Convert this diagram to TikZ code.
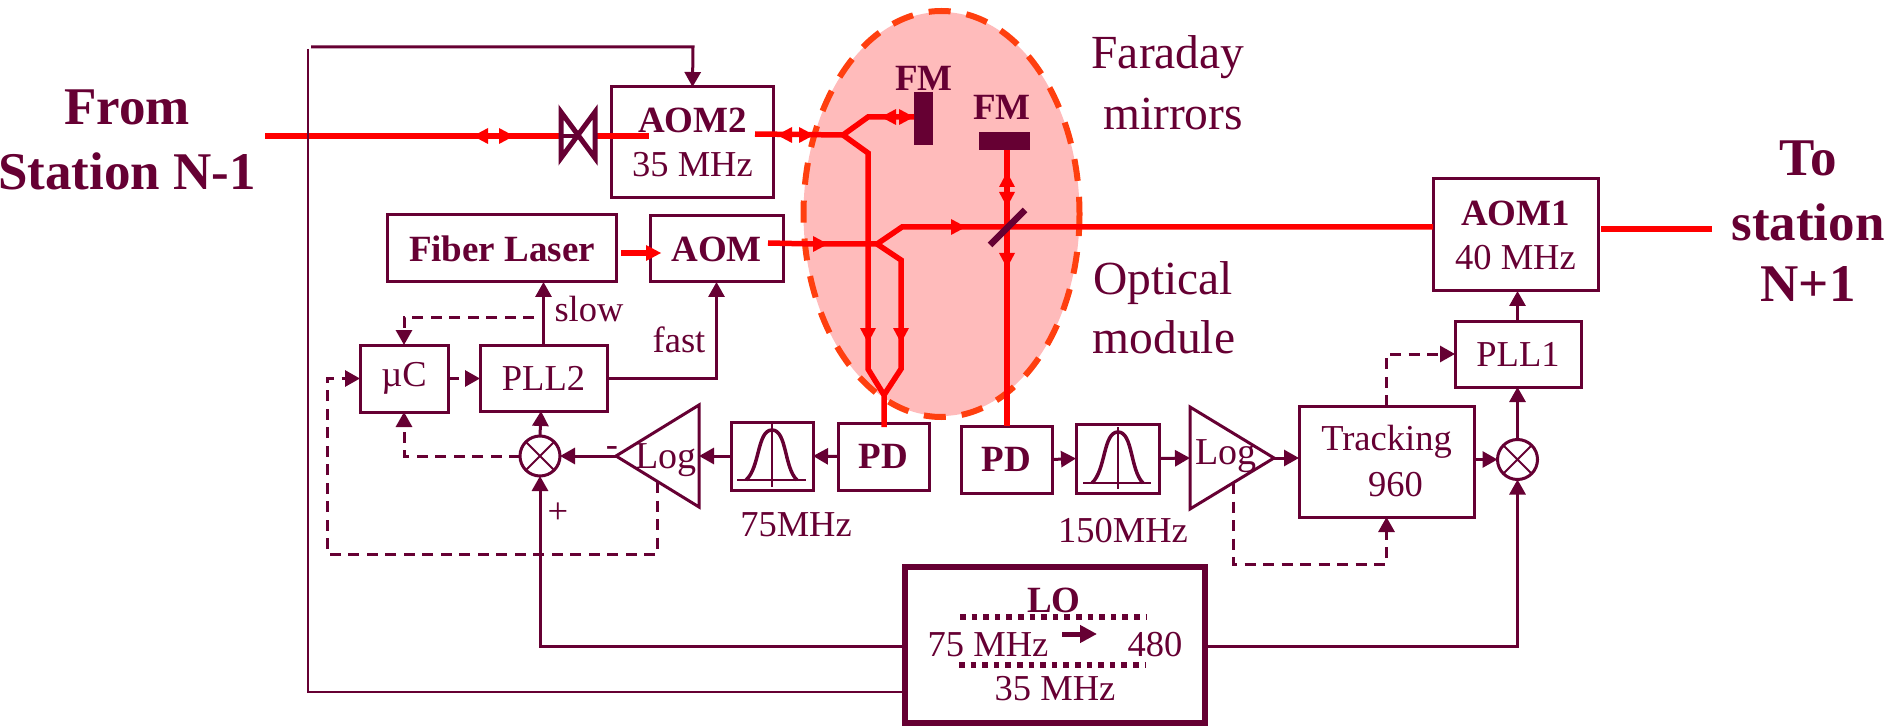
\documentclass[tikz,border=0pt]{standalone}
\usepackage{fontspec}
\setmainfont{Liberation Serif}
\usetikzlibrary{arrows.meta,calc,shapes.geometric}
\definecolor{dk}{HTML}{660033}
\definecolor{ored}{HTML}{FF3F0F}
\definecolor{pk}{HTML}{FFBBBB}
\newcommand\txtn{\fontsize{36.5}{44}\selectfont}
\newcommand\txtb{\fontsize{37}{44}\selectfont\bfseries}
\newcommand\txtm{\fontsize{47.5}{60}\selectfont}
\newcommand\txtl{\fontsize{53}{65}\selectfont\bfseries}
\newcommand\hr[2]{\fill[red] (#1,#2)--(#1-15,#2-8)--(#1-15,#2+8)--cycle;}
\newcommand\hl[2]{\fill[red] (#1,#2)--(#1+15,#2-8)--(#1+15,#2+8)--cycle;}
\newcommand\hd[2]{\fill[red] (#1,#2)--(#1-8,#2-15)--(#1+8,#2-15)--cycle;}
\newcommand\hu[2]{\fill[red] (#1,#2)--(#1-8,#2+15)--(#1+8,#2+15)--cycle;}
\tikzset{
  x=1pt,y=-1pt,
  every node/.style={text=dk,inner sep=0pt,outer sep=0pt,align=center},
  boxn/.style={draw=dk,line width=3pt,rectangle},
  mixer/.style={draw=dk,line width=3pt,circle,minimum size=40pt},
  conn/.style={draw=dk,line width=3pt,line join=miter,-{Triangle[length=15pt,width=16pt]}},
  dconn/.style={conn,dash pattern=on 11pt off 7.5pt},
  plain/.style={draw=dk,line width=3pt,line join=miter},
  thinl/.style={draw=dk,line width=2.3pt,line join=miter},
  beam/.style={draw=red,line width=5.5pt,line join=miter},
  dots/.style={draw=dk,line width=5.5pt,dash pattern=on 5.5pt off 6.1pt},
}
\begin{document}
\begin{tikzpicture}
\useasboundingbox (0,0) rectangle (1895,727);
% optical module
\node[ellipse,fill=pk,minimum width=276pt,minimum height=404pt] (om) at (941.5,214) {};
\draw[draw=ored,line width=6pt,dash pattern=on 22pt off 16pt] (941.5,214) ellipse [x radius=138,y radius=203];
% labels
\node[font=\txtl] (from) at (127,140) {From\\Station N-1};
\node[font=\txtl] (to) at (1808,158) {To};
\node[font=\txtl] (stn) at (1808,222) {station};
\node[font=\txtl] (np) at (1808,284) {N+1};
\node[font=\txtm] (far) at (1168,57) {Faraday};
\node[font=\txtm] (mir) at (1173,114) {mirrors};
\node[font=\txtm] (opt) at (1163,283) {Optical};
\node[font=\txtm] (mod) at (1164,337) {module};
% boxes
\node[boxn,font=\txtn,minimum width=162pt,minimum height=111pt] (aomb) at (692.5,142.5) {\txtb AOM2\\35 MHz};
\node[boxn,font=\txtb,minimum width=229pt,minimum height=67pt] (laser) at (502,248.5) {Fiber Laser};
\node[boxn,font=\txtb,minimum width=133pt,minimum height=66pt] (aom) at (716.5,249) {AOM};
\node[boxn,font=\txtn,minimum width=165pt,minimum height=112pt] (aoma) at (1515.5,235) {\txtb AOM1\\40 MHz};
\node[boxn,font=\txtn,minimum width=126pt,minimum height=66pt] (pllb) at (1518,354) {PLL1};
\node[boxn,font=\txtn,minimum width=88pt,minimum height=67pt] (uc) at (404,378.5) {µC};
\node[boxn,font=\txtn,minimum width=127pt,minimum height=66pt] (plla) at (543.5,378) {PLL2};
\node[boxn,font=\txtb,minimum width=91pt,minimum height=67pt] (pda) at (883.5,456.5) {PD};
\node[boxn,font=\txtb,minimum width=91pt,minimum height=67pt] (pdb) at (1006.5,459.5) {PD};
\node[boxn,minimum width=82pt,minimum height=68pt] (fa) at (772,456) {};
\node[boxn,minimum width=83pt,minimum height=69pt] (fb) at (1117.5,458.5) {};
\node[boxn,font=\txtn,minimum width=175pt,minimum height=111pt] (trk) at (1386.5,461.5) {Tracking\\[2pt]\hspace*{18pt}960};
\node[mixer] (mxa) at (540,456) {};
\node[mixer] (mxb) at (1517.5,459.5) {};
\draw[draw=dk,line width=2pt] (mxa.45)--(mxa.225) (mxa.135)--(mxa.315);
\draw[draw=dk,line width=2pt] (mxb.45)--(mxb.225) (mxb.135)--(mxb.315);
\node[draw=dk,line width=6pt,rectangle,minimum width=300pt,minimum height=156pt] (lo) at (1055,645) {};
% filter glyphs
\draw[draw=dk,line width=2pt] (737,480)--(806,480) (772,424)--(772,487);
\draw[draw=dk,line width=3.5pt] (746,480) .. controls (760,468) and (757,430) .. (772,430) .. controls (787,430) and (784,468) .. (797,480);
\draw[draw=dk,line width=2pt] (1083,483)--(1151,483) (1118,427)--(1118,489);
\draw[draw=dk,line width=3.5pt] (1092,483) .. controls (1106,470) and (1103,432) .. (1118,432) .. controls (1133,432) and (1130,470) .. (1143,483);
% log amps
\coordinate (la) at (616,456);
\coordinate (lb) at (1274,458);
\coordinate (lain) at (699,456);
\coordinate (lbin) at (1190,458);
\draw[plain] (la)--(699,405)--(699,507)--cycle;
\draw[plain] (lb)--(1190,407)--(1190,509)--cycle;
\node[font=\fontsize{38}{44}\selectfont] (loga) at (666,460) {Log};
\node[font=\fontsize{38}{44}\selectfont] (logb) at (1226,456) {Log};
\node[font=\txtn] (minus) at (612,452) {-};
\node[font=\txtn] (plus) at (558,513) {+};
\node[font=\txtn] (l75) at (796,525) {75MHz};
\node[font=\txtn] (l150) at (1123,531) {150MHz};
\node[font=\txtn] (slow) at (589,309) {slow};
\node[font=\txtn] (fast) at (679,340) {fast};
% FM
\node[fill=dk,minimum width=19pt,minimum height=53pt] (fma) at (923.5,118.5) {};
\node[fill=dk,minimum width=51pt,minimum height=18pt] (fmb) at (1004.5,141) {};
\node[font=\txtb] (fmal) at (924,78) {FM};
\node[font=\txtb] (fmbl) at (1002,107) {FM};
% LO contents
\node[font=\txtb] (lol) at (1054,600) {LO};
\node[font=\txtn] (l75b) at (988,645) {75 MHz};
\node[font=\txtn] (l480) at (1155,645) {480};
\node[font=\txtn] (l35) at (1055,689) {35 MHz};
\coordinate (d1a) at (960,617); \coordinate (d1b) at (1147,617);
\coordinate (d2a) at (959,665); \coordinate (d2b) at (1146,665);
\draw[dots] (d1a)--(d1b);
\draw[dots] (d2a)--(d2b);
\coordinate (la1) at (1062,634); \coordinate (la2) at (1097,634);
\draw[draw=dk,line width=5pt,-{Triangle[length=17pt,width=17pt]}] (la1)--(la2);
% red beams
\coordinate (inl) at (265,136);
\coordinate (inr) at (649,136);
\draw[beam] (inl)--(inr);
\coordinate (ua) at (755,134);
\coordinate (fork1) at (843,135);
\coordinate (join) at (884,395);
\draw[beam] (ua)--(fork1)--(868,117)--(fma.west |- 0,117);
\draw[beam] (fork1)--(868,153)--(868,369)--(join)--(884,427);
\coordinate (ub) at (768,243);
\coordinate (fork2) at (877,244);
\draw[beam] (ub)--(815,244)--(fork2)--(902,227)--(aoma.west |- 0,227);
\draw[beam] (fork2)--(901,260)--(901,369)--(join);
\draw[beam] (1007,150)--(pdb.north -| 1007,0);
\draw[beam] (621,253)--(650,253);
\coordinate (outa) at (1601,229);
\coordinate (outb) at (1712,229);
\draw[beam,line width=6pt] (outa)--(outb);
\hl{473}{136}\hr{514}{136}
\hl{777}{135}\hr{814}{135}
\hl{881}{117}\hr{914}{117}
\hr{661}{253}
\hr{828}{244}
\hr{966}{227}
\hd{868}{343}\hd{901}{343}
\hu{1007}{172}\hd{1007}{207}\hd{1007}{268}
% splitter
\draw[draw=dk,line width=6.5pt] (990,245)--(1025,210);
% valve
\draw[draw=dk,line width=5pt,fill=white,line join=miter] (561,112)--(595,158)--(595,112)--(561,158)--cycle;
\draw[draw=dk,line width=4pt] (561,136)--(578,136);
% electrical connectors
\coordinate (topa) at (311,47);
\coordinate (topb) at (693,47);
\coordinate (lefta) at (308,49);
\draw[conn] (topa)--(topb)--(aomb.north);
\draw[thinl] (lefta)--(308,692)--(908,692);
\draw[conn] (lo.west |- 0,646)--(540,646)--(mxa.south);
\draw[conn] (lo.east |- 0,646)--(1517.5,646)--(mxb.south);
\draw[conn] (mxa.north)--(plla.south -| 541,0);
\draw[conn] (mxb.north)--(pllb.south -| mxb.north);
\draw[conn] (pllb.north -| mxb.north)--(aoma.south -| mxb.north);
\draw[conn] (plla.north)--(laser.south -| plla.north);
\draw[conn] (plla.east)--(716.5,378)--(aom.south);
\draw[conn] (la)--(mxa.east);
\draw[conn] (fa.west)--(lain);
\draw[conn] (pda.west)--(fa.east);
\draw[conn] (pdb.east)--(fb.west);
\draw[conn] (fb.east)--(lbin);
\draw[conn] (lb)--(trk.west |- lb);
\draw[conn] (trk.east |- mxb.west)--(mxb.west);
\coordinate (sl) at (534,317);
\draw[dconn] (sl)--(404,317)--(uc.north);
\draw[dconn] (uc.east)--(plla.west |- uc.east);
\draw[dconn] (mxa.west)--(404,456)--(uc.south);
\coordinate (fbk) at (657,482);
\draw[dconn] (fbk)--(657,554)--(327,554)--(327,378.5)--(uc.west);
\coordinate (trb) at (1233,483);
\draw[dconn] (trb)--(1233,564)--(1386.5,564)--(trk.south);
\draw[dconn] (trk.north)--(1386.5,354)--(pllb.west);
\end{tikzpicture}
\end{document}
